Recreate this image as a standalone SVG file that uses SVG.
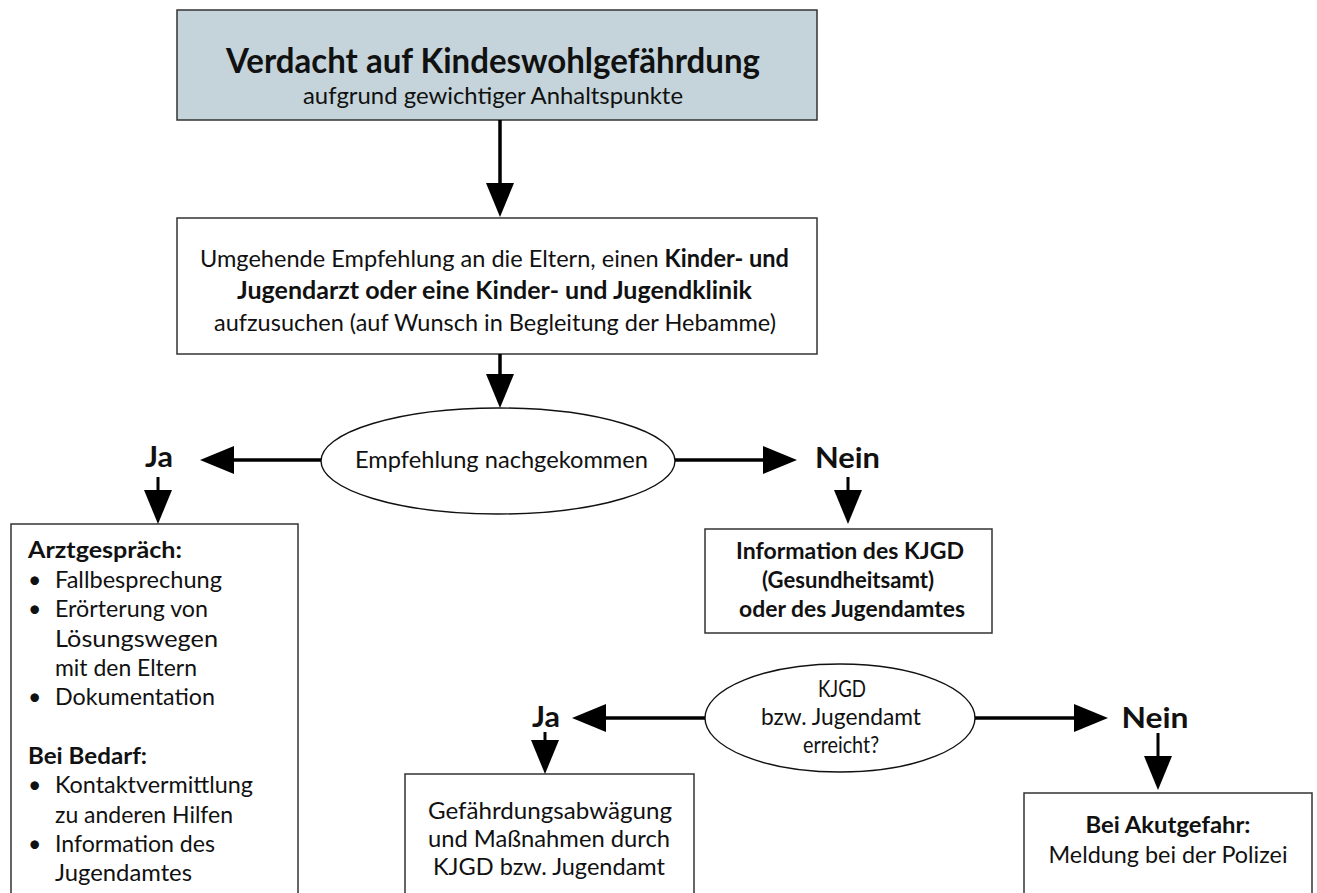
<svg xmlns="http://www.w3.org/2000/svg" width="1317" height="893" viewBox="0 0 1317 893">
  <style>
    .box { fill: #ffffff; stroke: #333333; stroke-width: 1.5; }
    .head { fill: #c4d4da; stroke: #333333; stroke-width: 1.5; }
    .ell { fill: #ffffff; stroke: #111111; stroke-width: 1.4; }
    .t { font-family: Lato, "Liberation Sans", sans-serif; fill: #111111; }
    .c { text-anchor: middle; }
    .b { font-weight: bold; }
    .conn line { stroke: #000000; stroke-width: 3.5; marker-end: url(#ah); }
  </style>
  <defs>
    <marker id="ah" viewBox="0 0 34 28" refX="1" refY="14" markerWidth="34" markerHeight="28" markerUnits="userSpaceOnUse" orient="auto">
      <path d="M0,0 L34,14 L0,28 Z" fill="#000000"/>
    </marker>
  </defs>

  <g id="n-verdacht">
    <rect class="head" x="177" y="10" width="640" height="110"/>
    <text class="t c b" x="493" y="73" font-size="34" textLength="534" lengthAdjust="spacingAndGlyphs">Verdacht auf Kindeswohlgefährdung</text>
    <text class="t c" x="493" y="104" font-size="24" textLength="380" lengthAdjust="spacingAndGlyphs">aufgrund gewichtiger Anhaltspunkte</text>
  </g>

  <g id="n-empfehlung">
    <rect class="box" x="177" y="218" width="640" height="136"/>
    <text class="t c" x="494.5" y="267" font-size="24" textLength="589" lengthAdjust="spacingAndGlyphs">Umgehende Empfehlung an die Eltern, einen <tspan class="b">Kinder- und</tspan></text>
    <text class="t c b" x="494.5" y="299" font-size="24" textLength="515" lengthAdjust="spacingAndGlyphs">Jugendarzt oder eine Kinder- und Jugendklinik</text>
    <text class="t c" x="495" y="331" font-size="24" textLength="562" lengthAdjust="spacingAndGlyphs">aufzusuchen (auf Wunsch in Begleitung der Hebamme)</text>
  </g>

  <g id="n-nachgekommen">
    <ellipse class="ell" cx="498" cy="461" rx="177" ry="53"/>
    <text class="t c" x="501.5" y="468" font-size="24" textLength="293" lengthAdjust="spacingAndGlyphs">Empfehlung nachgekommen</text>
  </g>

  <g id="l-ja1">
    <text class="t c b" x="159" y="467" font-size="29" textLength="28" lengthAdjust="spacingAndGlyphs">Ja</text>
  </g>
  <g id="l-nein1">
    <text class="t c b" x="847.5" y="468" font-size="29" textLength="65" lengthAdjust="spacingAndGlyphs">Nein</text>
  </g>

  <g id="n-arzt">
    <rect class="box" x="11" y="524" width="287" height="420"/>
    <text class="t b" x="28" y="558" font-size="23" textLength="154" lengthAdjust="spacingAndGlyphs">Arztgespräch:</text>
    <text class="t" x="28" y="588" font-size="23">•</text>
    <text class="t" x="55" y="588" font-size="23" textLength="167" lengthAdjust="spacingAndGlyphs">Fallbesprechung</text>
    <text class="t" x="28" y="617" font-size="23">•</text>
    <text class="t" x="55" y="617" font-size="23" textLength="153" lengthAdjust="spacingAndGlyphs">Erörterung von</text>
    <text class="t" x="55" y="647" font-size="23" textLength="163" lengthAdjust="spacingAndGlyphs">Lösungswegen</text>
    <text class="t" x="55" y="676" font-size="23" textLength="142" lengthAdjust="spacingAndGlyphs">mit den Eltern</text>
    <text class="t" x="28" y="705" font-size="23">•</text>
    <text class="t" x="55" y="705" font-size="23" textLength="160" lengthAdjust="spacingAndGlyphs">Dokumentation</text>
    <text class="t b" x="28" y="764" font-size="23" textLength="119" lengthAdjust="spacingAndGlyphs">Bei Bedarf:</text>
    <text class="t" x="28" y="793" font-size="23">•</text>
    <text class="t" x="55" y="793" font-size="23" textLength="198" lengthAdjust="spacingAndGlyphs">Kontaktvermittlung</text>
    <text class="t" x="55" y="823" font-size="23" textLength="178" lengthAdjust="spacingAndGlyphs">zu anderen Hilfen</text>
    <text class="t" x="28" y="852" font-size="23">•</text>
    <text class="t" x="55" y="852" font-size="23" textLength="160" lengthAdjust="spacingAndGlyphs">Information des</text>
    <text class="t" x="55" y="881" font-size="23" textLength="137" lengthAdjust="spacingAndGlyphs">Jugendamtes</text>
  </g>

  <g id="n-kjgd-info">
    <rect class="box" x="705" y="529" width="287" height="104"/>
    <text class="t c b" x="850" y="559" font-size="23" textLength="228" lengthAdjust="spacingAndGlyphs">Information des KJGD</text>
    <text class="t c b" x="848" y="588" font-size="23" textLength="172" lengthAdjust="spacingAndGlyphs">(Gesundheitsamt)</text>
    <text class="t c b" x="852" y="617" font-size="23" textLength="226" lengthAdjust="spacingAndGlyphs">oder des Jugendamtes</text>
  </g>

  <g id="n-erreicht">
    <ellipse class="ell" cx="840" cy="718" rx="135" ry="54"/>
    <text class="t c" x="842" y="697" font-size="23" textLength="48" lengthAdjust="spacingAndGlyphs">KJGD</text>
    <text class="t c" x="841" y="725" font-size="23" textLength="160" lengthAdjust="spacingAndGlyphs">bzw.  Jugendamt</text>
    <text class="t c" x="841" y="753" font-size="23" textLength="76" lengthAdjust="spacingAndGlyphs">erreicht?</text>
  </g>

  <g id="l-ja2">
    <text class="t c b" x="546" y="727" font-size="29" textLength="28" lengthAdjust="spacingAndGlyphs">Ja</text>
  </g>
  <g id="l-nein2">
    <text class="t c b" x="1155" y="728" font-size="29" textLength="67" lengthAdjust="spacingAndGlyphs">Nein</text>
  </g>

  <g id="n-gefaehrdung">
    <rect class="box" x="405" y="774" width="289" height="160"/>
    <text class="t c" x="550" y="819" font-size="23" textLength="244" lengthAdjust="spacingAndGlyphs">Gefährdungsabwägung</text>
    <text class="t c" x="549" y="847" font-size="23" textLength="242" lengthAdjust="spacingAndGlyphs">und Maßnahmen durch</text>
    <text class="t c" x="549" y="875" font-size="23" textLength="232" lengthAdjust="spacingAndGlyphs">KJGD bzw.  Jugendamt</text>
  </g>

  <g id="n-akut">
    <rect class="box" x="1024" y="793" width="288" height="140"/>
    <text class="t c b" x="1168" y="833" font-size="23" textLength="165" lengthAdjust="spacingAndGlyphs">Bei Akutgefahr:</text>
    <text class="t c" x="1168" y="863" font-size="23" textLength="239" lengthAdjust="spacingAndGlyphs">Meldung bei der Polizei</text>
  </g>

  <g id="connectors" class="conn">
    <line x1="500" y1="120" x2="500" y2="184"/>
    <line x1="500" y1="354" x2="500" y2="375"/>
    <line x1="321" y1="460" x2="233" y2="460"/>
    <line x1="675" y1="460" x2="764" y2="460"/>
    <line x1="158" y1="477" x2="158" y2="491" style="stroke-width:3"/>
    <line x1="848" y1="477" x2="848" y2="491" style="stroke-width:3"/>
    <line x1="705" y1="718" x2="605" y2="718"/>
    <line x1="975" y1="718" x2="1075" y2="718"/>
    <line x1="545" y1="732" x2="545" y2="741" style="stroke-width:3"/>
    <line x1="1158" y1="733" x2="1158" y2="757" style="stroke-width:3"/>
  </g>
</svg>
